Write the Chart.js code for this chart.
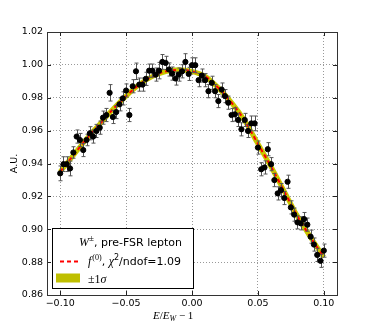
<!DOCTYPE html>
<html>
<head>
<meta charset="utf-8">
<script src="https://cdn.jsdelivr.net/npm/chart.js@4.4.0/dist/chart.umd.min.js"></script>
<style>
  html, body { margin: 0; padding: 0; background: #fff; }
</style>
</head>
<body>
<canvas id="myChart" width="374" height="327"></canvas>
<script>
// bin centres
var xValues = [
  -0.1000, -0.0975, -0.0950, -0.0925, -0.0900, -0.0875, -0.0850, -0.0825, -0.0800, -0.0775,
  -0.0750, -0.0725, -0.0700, -0.0675, -0.0650, -0.0625, -0.0600, -0.0575, -0.0550, -0.0525,
  -0.0500, -0.0475, -0.0450, -0.0425, -0.0400, -0.0375, -0.0350, -0.0325, -0.0300, -0.0275,
  -0.0250, -0.0225, -0.0200, -0.0175, -0.0150, -0.0125, -0.0100, -0.0075, -0.0050, -0.0025,
   0.0000,  0.0025,  0.0050,  0.0075,  0.0100,  0.0125,  0.0150,  0.0175,  0.0200,  0.0225,
   0.0250,  0.0275,  0.0300,  0.0325,  0.0350,  0.0375,  0.0400,  0.0425,  0.0450,  0.0475,
   0.0500,  0.0525,  0.0550,  0.0575,  0.0600,  0.0625,  0.0650,  0.0675,  0.0700,  0.0725,
   0.0750,  0.0775,  0.0800,  0.0825,  0.0850,  0.0875,  0.0900,  0.0925,  0.0950,  0.0975,
   0.1000
];
var yValues = [
  0.9340, 0.9396, 0.9396, 0.9370, 0.9467, 0.9564, 0.9543, 0.9482, 0.9543, 0.9584,
  0.9564, 0.9598, 0.9618, 0.9679, 0.9695, 0.9830, 0.9683, 0.9713, 0.9760, 0.9796,
  0.9844, 0.9695, 0.9870, 0.9961, 0.9880, 0.9880, 0.9915, 0.9965, 0.9965, 0.9941,
  0.9965, 1.0018, 1.0012, 0.9972, 0.9947, 0.9917, 0.9941, 0.9961, 1.0018, 0.9945,
  0.9998, 0.9998, 0.9907, 0.9935, 0.9907, 0.9840, 0.9891, 0.9840, 0.9780, 0.9850,
  0.9810, 0.9770, 0.9695, 0.9699, 0.9665, 0.9608, 0.9665, 0.9598, 0.9644, 0.9644,
  0.9497, 0.9365, 0.9376, 0.9487, 0.9396, 0.9299, 0.9218, 0.9238, 0.9190, 0.9289,
  0.9133, 0.9089, 0.9042, 0.9036, 0.9062, 0.9028, 0.8955, 0.8907, 0.8844, 0.8808,
  0.8870
];
var yErrors = [
  0.0045, 0.0045, 0.0045, 0.0045, 0.0035, 0.0040, 0.0040, 0.0040, 0.0035, 0.0040,
  0.0040, 0.0040, 0.0040, 0.0040, 0.0040, 0.0050, 0.0040, 0.0040, 0.0040, 0.0040,
  0.0040, 0.0040, 0.0040, 0.0050, 0.0040, 0.0040, 0.0040, 0.0040, 0.0040, 0.0040,
  0.0050, 0.0045, 0.0040, 0.0040, 0.0040, 0.0040, 0.0040, 0.0040, 0.0050, 0.0040,
  0.0045, 0.0045, 0.0040, 0.0040, 0.0040, 0.0040, 0.0040, 0.0040, 0.0040, 0.0040,
  0.0040, 0.0040, 0.0040, 0.0040, 0.0040, 0.0040, 0.0040, 0.0040, 0.0045, 0.0045,
  0.0040, 0.0040, 0.0040, 0.0040, 0.0040, 0.0040, 0.0040, 0.0040, 0.0040, 0.0040,
  0.0040, 0.0040, 0.0040, 0.0040, 0.0040, 0.0040, 0.0040, 0.0040, 0.0040, 0.0040,
  0.0040
];
// fit curve f(0)
var fitX = [-0.10, -0.09, -0.08, -0.07, -0.06, -0.05, -0.04, -0.03, -0.02, -0.01, 0.00,
             0.01,  0.02,  0.03,  0.04,  0.05,  0.06,  0.07,  0.08,  0.09,  0.10];
var fitY = [0.935, 0.945, 0.955, 0.964, 0.973, 0.981, 0.988, 0.993, 0.996, 0.997, 0.996,
            0.993, 0.986, 0.977, 0.966, 0.952, 0.938, 0.923, 0.908, 0.895, 0.883];
var xTicks = [-0.10, -0.05, 0.00, 0.05, 0.10];
var yTicks = [0.86, 0.88, 0.90, 0.92, 0.94, 0.96, 0.98, 1.00, 1.02];

var SANS = '"DejaVu Sans", sans-serif';
var SERIF = '"Liberation Serif", serif';

function toXY(xs, ys) {
  return xs.map(function (x, i) { return { x: x, y: ys[i] }; });
}
function fmt(v) {
  return (v < 0 ? '\u2212' : '') + Math.abs(v).toFixed(2);
}

// draws a row of text pieces with different fonts
function drawRuns(ctx, x, y, runs) {
  runs.forEach(function (r) {
    ctx.font = r.font;
    ctx.fillText(r.t, x, y + (r.dy || 0));
    x += ctx.measureText(r.t).width + (r.sp || 0);
  });
  return x;
}

var extras = {
  id: 'extras',
  beforeDatasetDraw: function (chart, args) {
    if (args.index !== 0) return;
    var ctx = chart.ctx, xs = chart.scales.x, ys = chart.scales.y;
    ctx.save();
    ctx.strokeStyle = '#555';
    ctx.lineWidth = 1;
    xValues.forEach(function (x, i) {
      var px = Math.round(xs.getPixelForValue(x)) + 0.5;
      var top = ys.getPixelForValue(yValues[i] + yErrors[i]);
      var bot = ys.getPixelForValue(yValues[i] - yErrors[i]);
      ctx.beginPath();
      ctx.moveTo(px, top); ctx.lineTo(px, bot);
      ctx.moveTo(px - 2, top); ctx.lineTo(px + 2, top);
      ctx.moveTo(px - 2, bot); ctx.lineTo(px + 2, bot);
      ctx.stroke();
    });
    ctx.restore();
  },
  afterDraw: function (chart) {
    var ctx = chart.ctx, a = chart.chartArea, xs = chart.scales.x, ys = chart.scales.y;
    ctx.save();
    // ticks inside the frame
    ctx.strokeStyle = '#222';
    ctx.lineWidth = 1;
    ctx.beginPath();
    xTicks.forEach(function (v) {
      var px = Math.round(xs.getPixelForValue(v)) + 0.5;
      ctx.moveTo(px, a.bottom); ctx.lineTo(px, a.bottom - 4);
      ctx.moveTo(px, a.top); ctx.lineTo(px, a.top + 4);
    });
    yTicks.forEach(function (v) {
      var py = Math.round(ys.getPixelForValue(v)) + 0.5;
      ctx.moveTo(a.left, py); ctx.lineTo(a.left + 4, py);
      ctx.moveTo(a.right, py); ctx.lineTo(a.right - 4, py);
    });
    ctx.stroke();
    // frame
    ctx.strokeStyle = '#333';
    ctx.strokeRect(Math.round(a.left) + 0.5, Math.round(a.top) + 0.5,
                   Math.round(a.right - a.left), Math.round(a.bottom - a.top));

    // legend box
    var lx = 52.5, ly = 228.5, lw = 141, lh = 60;
    ctx.fillStyle = '#fff';
    ctx.fillRect(lx, ly, lw, lh);
    ctx.strokeStyle = '#000';
    ctx.strokeRect(lx, ly, lw, lh);
    ctx.fillStyle = '#000';
    ctx.textBaseline = 'alphabetic';
    drawRuns(ctx, 79, 246, [
      { t: 'W', font: 'italic 12px ' + SERIF },
      { t: '\u00b1', font: '9px ' + SERIF, dy: -5 },
      { t: ', pre-FSR lepton', font: '11px ' + SANS }
    ]);
    ctx.strokeStyle = '#ff0000';
    ctx.lineWidth = 2;
    ctx.setLineDash([4, 3]);
    ctx.beginPath(); ctx.moveTo(60, 261.5); ctx.lineTo(78, 261.5); ctx.stroke();
    ctx.setLineDash([]);
    drawRuns(ctx, 88, 265, [
      { t: 'f', font: 'italic 12px ' + SERIF, sp: 1 },
      { t: '(0)', font: '8px ' + SERIF, dy: -5 },
      { t: ', ', font: '11px ' + SANS },
      { t: '\u03c7', font: 'italic 12px ' + SERIF },
      { t: '2', font: '8px ' + SANS, dy: -5 },
      { t: '/ndof=1.09', font: '11px ' + SANS }
    ]);
    ctx.fillStyle = '#bfbf00';
    ctx.fillRect(56, 273.5, 24, 9);
    ctx.fillStyle = '#000';
    drawRuns(ctx, 88, 283, [
      { t: '\u00b11', font: '12px ' + SERIF },
      { t: '\u03c3', font: 'italic 12px ' + SERIF }
    ]);

    // axis titles
    drawRuns(ctx, 153, 319, [
      { t: 'E', font: 'italic 11px ' + SERIF },
      { t: '/', font: '11px ' + SERIF },
      { t: 'E', font: 'italic 11px ' + SERIF },
      { t: 'W', font: 'italic 8px ' + SERIF, dy: 2 },
      { t: ' \u2212 1', font: '11px ' + SERIF }
    ]);
    ctx.translate(17, (a.top + a.bottom) / 2);
    ctx.rotate(-Math.PI / 2);
    ctx.font = '9.5px ' + SANS;
    ctx.textAlign = 'center';
    ctx.fillText('A.U.', 0, 0);
    ctx.restore();
  }
};

new Chart('myChart', {
  type: 'scatter',
  data: {
    datasets: [{
      label: 'data',
      data: toXY(xValues, yValues),
      backgroundColor: '#000',
      borderColor: '#000',
      pointRadius: 2.6,
      pointStyle: 'circle',
      order: 0
    }, {
      label: 'f(0)',
      type: 'line',
      data: toXY(fitX, fitY),
      borderColor: '#ff0000',
      borderWidth: 2,
      borderDash: [4, 3],
      pointRadius: 0,
      cubicInterpolationMode: 'monotone',
      fill: false,
      order: 1
    }, {
      label: 'band',
      type: 'line',
      data: toXY(fitX, fitY),
      borderColor: '#c8c800',
      borderWidth: 5,
      pointRadius: 0,
      cubicInterpolationMode: 'monotone',
      fill: false,
      order: 2
    }]
  },
  options: {
    responsive: false,
    animation: false,
    layout: { padding: { left: 0, top: 32, right: 37, bottom: 0 } },
    plugins: { legend: { display: false }, tooltip: { enabled: false } },
    scales: {
      x: {
        type: 'linear',
        min: -0.11,
        max: 0.11,
        afterBuildTicks: function (s) { s.ticks = xTicks.map(function (v) { return { value: v }; }); },
        afterFit: function (s) { s.height = 32; },
        ticks: { color: '#000', font: { family: SANS, size: 9.5 }, padding: 3, maxRotation: 0,
                 callback: function (v) { return fmt(v); } },
        grid: { color: 'rgba(0,0,0,0.4)', lineWidth: 1, drawTicks: false },
        border: { display: false, dash: [1, 2] }
      },
      y: {
        min: 0.86,
        max: 1.02,
        afterBuildTicks: function (s) { s.ticks = yTicks.map(function (v) { return { value: v }; }); },
        afterFit: function (s) { s.width = 47; },
        ticks: { color: '#000', font: { family: SANS, size: 9.5 }, padding: 4,
                 callback: function (v) { return fmt(v); } },
        grid: { color: 'rgba(0,0,0,0.4)', lineWidth: 1, drawTicks: false },
        border: { display: false, dash: [1, 2] }
      }
    }
  },
  plugins: [extras]
});
</script>
</body>
</html>
